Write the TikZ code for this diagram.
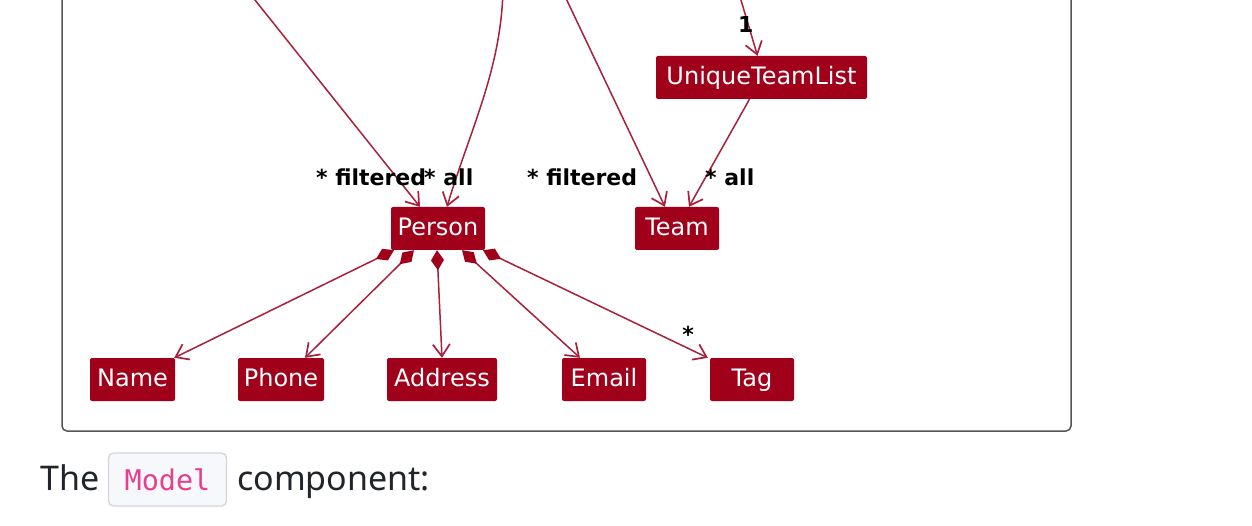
\documentclass[tikz,border=0pt]{standalone}
\usepackage{fontspec}
\setmainfont{DejaVu Sans}
\newfontfamily\notosans{Noto Sans}
\newfontfamily\dvmono{DejaVu Sans Mono}
\usetikzlibrary{arrows.meta}
\definecolor{nodered}{HTML}{A00019}
\definecolor{linered}{HTML}{A8203C}
\definecolor{framegray}{HTML}{555555}
\definecolor{bodytext}{HTML}{212529}
\definecolor{codepink}{HTML}{E83E8C}
\definecolor{codebg}{HTML}{F7F8FC}
\definecolor{codeborder}{HTML}{D4D4D8}
\begin{document}
\begin{tikzpicture}[x=1pt,y=-1pt,
  cls/.style={fill=nodered,text=white,rounded corners=2pt,minimum height=43pt,inner sep=0pt,
    text height=17pt,text depth=3pt,font=\fontsize{24}{24}\selectfont},
  assoc/.style={draw=linered,line width=1.5pt,-{Straight Barb[length=12pt,width=17pt,line width=1.7pt]}},
  compo/.style={draw=linered,line width=1.5pt,
    {Diamond[length=20pt,width=13pt,fill=nodered,line width=0pt]}-{Straight Barb[length=12pt,width=17pt,line width=1.7pt]}},
  lbl/.style={font=\bfseries\fontsize{22}{22}\selectfont,text=black,inner sep=0pt},
  bodyfont/.style={font=\notosans\fontsize{34}{34}\selectfont,text=bodytext,inner sep=0pt}]
\useasboundingbox (0,0) rectangle (1252,526);
% frame
\draw[framegray,line width=1.5pt,rounded corners=5pt] (62,-30) rectangle (1071,431);
% nodes
\node[cls,minimum width=211pt] (utl) at (761.5,77.5) {UniqueTeamList};
\node[cls,minimum width=94pt] (person) at (438,228.5) {Person};
\node[cls,minimum width=84pt] (team) at (677,228.5) {Team};
\node[cls,minimum width=85pt] (name) at (132.5,379.5) {Name};
\node[cls,minimum width=86pt] (phone) at (281,379.5) {Phone};
\node[cls,minimum width=110pt] (address) at (442,379.5) {Address};
\node[cls,minimum width=84pt] (email) at (604,379.5) {Email};
\node[cls,minimum width=84pt] (tag) at (752,379.5) {Tag};
% free ends above the visible area
\coordinate (top1) at (247,-10);
\coordinate (top2) at (503,-10);
\coordinate (top3) at (562,-10);
\coordinate (top4) at (738,-10);
% connectors from above
\draw[assoc] (top1) -- ([xshift=-18pt]person.north);
\draw[assoc] (top2) .. controls (501,70) and (470,130) .. ([xshift=9pt]person.north);
\draw[assoc] (top3) -- ([xshift=-12pt]team.north);
\draw[assoc] (top4) -- ([xshift=-4pt]utl.north);
\draw[assoc] ([xshift=-12pt]utl.south) -- ([xshift=12pt]team.north);
% compositions
\draw[compo] ([xshift=-44pt]person.south) -- ([xshift=-1pt]name.north east);
\draw[compo] ([xshift=-24pt]person.south) -- ([xshift=24pt]phone.north);
\draw[compo] ([xshift=-1pt]person.south) -- (address.north);
\draw[compo] ([xshift=24pt]person.south) -- ([xshift=-24pt]email.north);
\draw[compo] ([xshift=45pt]person.south) -- ([xshift=-2pt]tag.north west);
% labels
\node[lbl,anchor=base west] (lf1) at (316,186) {* filtered};
\node[lbl,anchor=base west] (la1) at (424,186) {* all};
\node[lbl,anchor=base west] (lf2) at (527,186) {* filtered};
\node[lbl,anchor=base west] (la2) at (705,186) {* all};
\node[lbl,anchor=base west] (lone) at (738,33) {1};
\node[lbl] (lstar) at (688,334) {*};
% caption
\node[bodyfont,anchor=base west] (the) at (40,490) {The};
\node[draw=codeborder,fill=codebg,line width=1.3pt,rounded corners=5pt,minimum width=118pt,
  inner sep=0pt,text height=37pt,text depth=16pt,anchor=base,text=codepink,
  font=\dvmono\fontsize{28.5}{28.5}\selectfont] (code) at (167.5,490) {Model};
\node[bodyfont,anchor=base west] (comp) at (237,490) {component:};
\end{tikzpicture}
\end{document}
